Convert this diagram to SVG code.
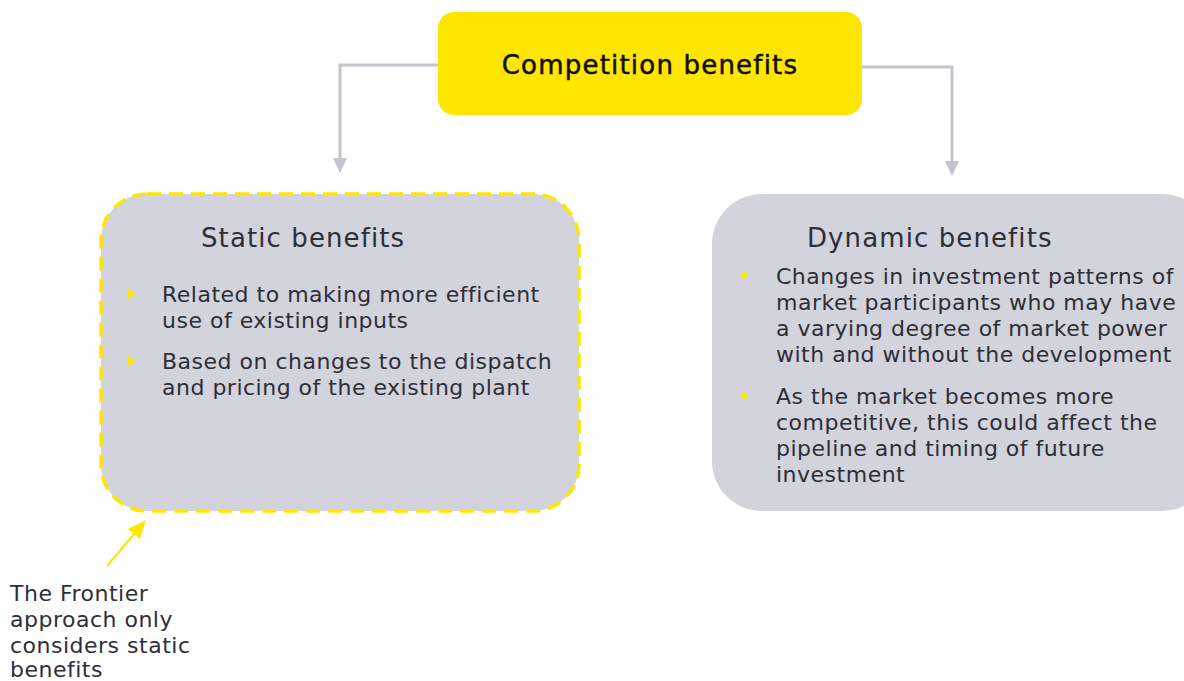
<svg xmlns="http://www.w3.org/2000/svg" width="1184" height="681" viewBox="0 0 1184 681">
  <defs>
    <path id="bullet" d="M0,-5 L8,0 L0,5 Z" fill="#ffe600"/>
  </defs>
  <style>
    text { font-family: "DejaVu Sans", "Liberation Sans", sans-serif; fill: #2e2e38; }
    .title { font-size: 26px; letter-spacing: 1.1px; }
    .body { font-size: 22px; letter-spacing: 0.5px; }
    .head { font-size: 26px; letter-spacing: 1.2px; fill: #111111; stroke: #111111; stroke-width: 0.5; }
    .conn { fill: none; stroke: #c4c4cd; stroke-width: 3; }
    .tip { fill: #c4c4cd; }
    .card { fill: #d2d3dc; }
  </style>

  <rect width="1184" height="681" fill="#ffffff"/>

  <!-- connectors from the top box to the two cards -->
  <g id="connectors">
    <path class="conn" d="M438,65 H340 V160"/>
    <path class="tip" d="M333,158 L347,158 L340,173 Z"/>
    <path class="conn" d="M862,67 H952 V163"/>
    <path class="tip" d="M945,161 L959,161 L952,176 Z"/>
  </g>

  <!-- top box -->
  <g id="competition">
    <rect x="438" y="12" width="424" height="103" rx="16" fill="#ffe600"/>
    <text class="head" x="650" y="74" text-anchor="middle">Competition benefits</text>
  </g>

  <!-- static benefits card, dashed yellow outline -->
  <g id="static">
    <rect class="card" x="101" y="194" width="478" height="317" rx="46" stroke="#ffe600" stroke-width="3.5" stroke-dasharray="14 8"/>
    <text class="title" x="201" y="247">Static benefits</text>
    <use href="#bullet" x="128" y="294"/>
    <text class="body" x="162" y="302">Related to making more efficient</text>
    <text class="body" x="162" y="328">use of existing inputs</text>
    <use href="#bullet" x="128" y="361"/>
    <text class="body" x="162" y="369">Based on changes to the dispatch</text>
    <text class="body" x="162" y="395">and pricing of the existing plant</text>
  </g>

  <!-- dynamic benefits card -->
  <g id="dynamic">
    <rect class="card" x="712" y="194" width="500" height="317" rx="50"/>
    <text class="title" x="807" y="247">Dynamic benefits</text>
    <use href="#bullet" x="741" y="275"/>
    <text class="body" x="776" y="284">Changes in investment patterns of</text>
    <text class="body" x="776" y="310">market participants who may have</text>
    <text class="body" x="776" y="336">a varying degree of market power</text>
    <text class="body" x="776" y="362">with and without the development</text>
    <use href="#bullet" x="741" y="396"/>
    <text class="body" x="776" y="404">As the market becomes more</text>
    <text class="body" x="776" y="430">competitive, this could affect the</text>
    <text class="body" x="776" y="456">pipeline and timing of future</text>
    <text class="body" x="776" y="482">investment</text>
  </g>

  <!-- annotation pointing at the static card -->
  <g id="note">
    <line x1="107" y1="566" x2="135" y2="533" stroke="#ffe600" stroke-width="2"/>
    <path d="M146,520 L140,539 L128,529 Z" fill="#ffe600"/>
    <text class="body" x="10" y="601">The Frontier</text>
    <text class="body" x="10" y="627">approach only</text>
    <text class="body" x="10" y="653">considers static</text>
    <text class="body" x="10" y="677">benefits</text>
  </g>
</svg>
